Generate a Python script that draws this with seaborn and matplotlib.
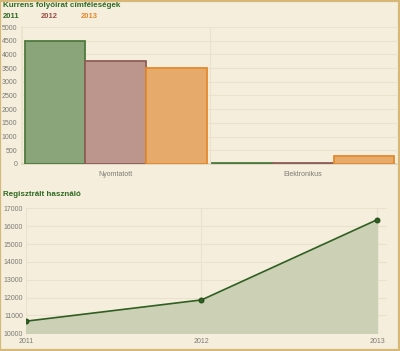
import numpy as np
import pandas as pd
import matplotlib
matplotlib.use("Agg")
import matplotlib.pyplot as plt
import matplotlib.patches as mpatches
import seaborn as sns

# adatok
kategoriak = ['Nyomtatott', 'Elektronikus']
evek = ['2011', '2012', '2013']
ertek_2011 = [4490, 45]
ertek_2012 = [3770, 20]
ertek_2013 = [3520, 280]

felh_evek = [2011, 2012, 2013]
felh_szam = [10680, 11870, 16360]

bg = '#f5eedd'
grid_c = '#ebe2cb'
tick_c = '#7a7a72'
cim_c = '#2e6a22'
fill_c = {'2011': '#8aa57a', '2012': '#bc958c', '2013': '#e6aa6b'}
edge_c = {'2011': '#4e7a3f', '2012': '#8e5d57', '2013': '#e3892c'}
leg_c = {'2011': '#2e6a22', '2012': '#9a4f47', '2013': '#e3892c'}

sns.set_theme(style='white')
plt.rcParams['font.family'] = ['Liberation Sans', 'DejaVu Sans']

df = pd.DataFrame({
    'kat': kategoriak * 3,
    'ev': [e for e in evek for _ in kategoriak],
    'db': ertek_2011 + ertek_2012 + ertek_2013,
})

fig = plt.figure(figsize=(4.0, 3.51), dpi=100, facecolor=bg)

# keret
fig.patches.append(mpatches.Rectangle((0.001, 0.002), 0.996, 0.995, transform=fig.transFigure,
                                      fill=False, edgecolor='#d8b878', linewidth=1.6))

ax1 = fig.add_axes([0.055, 0.533, 0.9375, 0.39], facecolor=bg)
sns.barplot(data=df, x='kat', y='db', hue='ev', palette=fill_c, width=0.97, gap=0,
            saturation=1, ax=ax1, legend=False, zorder=3)
for cont, ev in zip(ax1.containers, evek):
    for p in cont.patches:
        p.set_edgecolor(edge_c[ev])
        p.set_linewidth(1.3)
ax1.set_xlim(-0.5, 1.5)
ax1.set_ylim(0, 5000)
ax1.set_yticks(np.arange(0, 5001, 500))
ax1.set_xticks([0.5], minor=True)
ax1.grid(axis='y', color=grid_c, linewidth=0.8, zorder=0)
ax1.grid(axis='x', which='minor', color=grid_c, linewidth=0.8, zorder=0)
ax1.set_xlabel('')
ax1.set_ylabel('')
for s in ['top', 'right']:
    ax1.spines[s].set_visible(False)
ax1.spines['left'].set_color(grid_c)
ax1.spines['bottom'].set_color('#ddd5c0')
ax1.tick_params(axis='both', labelsize=5, labelcolor=tick_c, length=2, color='#ddd5c0', pad=1.5)
ax1.tick_params(axis='x', which='minor', length=3)
ax1.tick_params(axis='x', pad=3)

fig.text(0.008, 0.984, 'Kurrens folyóirat címféleségek', fontsize=5.8, fontweight='bold',
         color=cim_c, va='center')
for ev, xp in zip(evek, [0.008, 0.103, 0.203]):
    fig.text(xp, 0.953, ev, fontsize=5.5, fontweight='bold', color=leg_c[ev], va='center')

ax2 = fig.add_axes([0.065, 0.0504, 0.9025, 0.356], facecolor=bg)
ax2.fill_between(felh_evek, felh_szam, 10000, color='#ccd0b4', zorder=2)
sns.lineplot(x=felh_evek, y=felh_szam, ax=ax2, color='#2f5f22', linewidth=1.2,
             marker='o', markersize=3.5, markeredgecolor='#1f4a16', zorder=3)
ax2.set_xlim(2011, 2013.057)
ax2.set_ylim(10000, 17000)
ax2.set_xticks(felh_evek)
ax2.set_xticklabels([str(e) for e in felh_evek])
ax2.set_yticks(np.arange(10000, 17001, 1000))
ax2.grid(color=grid_c, linewidth=0.8, zorder=0)
for s in ['top', 'right', 'left', 'bottom']:
    ax2.spines[s].set_visible(False)
ax2.tick_params(axis='both', labelsize=5, labelcolor=tick_c, length=0, pad=2)
ax2.tick_params(axis='x', pad=3.5)
fig.text(0.008, 0.447, 'Regisztrált használó', fontsize=5.8, fontweight='bold',
         color=cim_c, va='center')

fig.savefig('out.png', dpi=100, facecolor=bg)
